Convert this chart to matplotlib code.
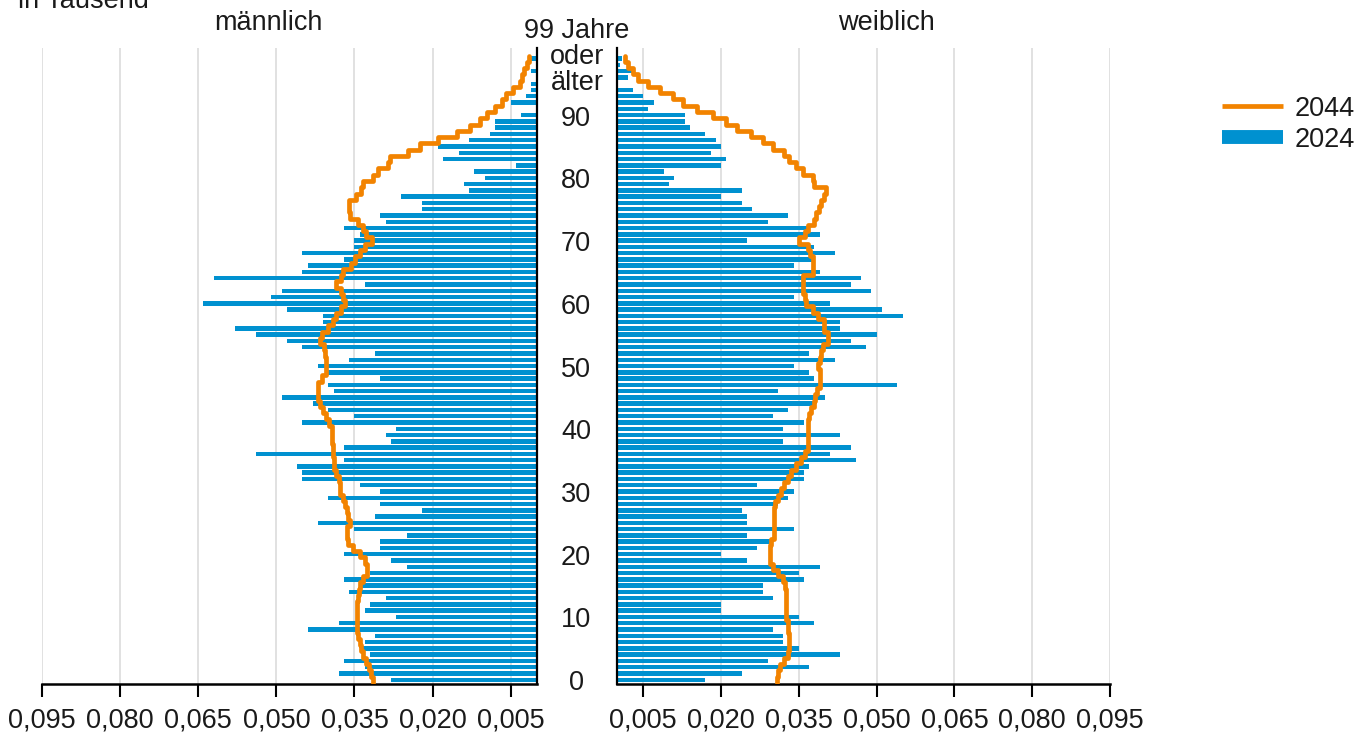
import numpy as np
import matplotlib
matplotlib.use("Agg")
import matplotlib.pyplot as plt
from matplotlib.lines import Line2D
from matplotlib.transforms import blended_transform_factory, ScaledTranslation

plt.rcParams['font.family'] = ['Liberation Sans', 'DejaVu Sans']

# ---------------- data (in Tausend) ----------------
ages = np.arange(0, 100)

male_2024 = [28, 38, 33, 37, 32, 34, 33, 31, 44, 38,
             27, 33, 32, 29, 36, 34, 37, 32, 25, 28,
             37, 30, 30, 25, 35, 42, 31, 22, 30, 40,
             30, 34, 45, 45, 46, 37, 54, 37, 28, 29,
             27, 45, 35, 40, 43, 49, 39, 40, 30, 40,
             42, 36, 31, 45, 48, 54, 58, 41, 41, 48,
             64, 51, 49, 33, 62, 45, 44, 37, 45, 35,
             35, 34, 37, 29, 30, 22, 22, 26, 13, 14,
             10, 12, 4, 18, 15, 19, 13, 9, 8, 8,
             3, 0, 5, 2, 1, 1, 0, 1, 0, 1]

female_2024 = [17, 24, 37, 29, 43, 35, 32, 32, 30, 38,
               35, 20, 20, 30, 28, 28, 36, 35, 39, 25,
               20, 27, 30, 25, 34, 25, 25, 24, 31, 33,
               34, 27, 36, 36, 37, 46, 41, 45, 32, 43,
               32, 36, 30, 33, 38, 40, 31, 54, 38, 37,
               34, 42, 37, 48, 45, 50, 43, 43, 55, 51,
               41, 34, 49, 45, 47, 39, 34, 38, 42, 38,
               25, 39, 37, 29, 33, 26, 24, 20, 24, 10,
               11, 9, 20, 21, 18, 20, 19, 17, 14, 13,
               13, 6, 7, 5, 3, 0, 2, 3, 0.5, 1]

male_2044 = [31.5, 31.8, 32.3, 32.8, 33.3, 33.7, 33.9, 34.3, 34.6, 34.6,
             34.6, 34.6, 34.6, 34.4, 34.1, 34.0, 33.3, 32.5, 32.5, 33.0,
             34.0, 35.3, 36.2, 36.5, 36.4, 35.9, 36.2, 36.5, 36.8, 37.2,
             37.8, 37.8, 37.9, 38.5, 39.0, 39.0, 39.2, 39.2, 39.4, 39.4,
             39.4, 39.8, 40.4, 41.0, 41.7, 42.0, 42.0, 42.0, 41.3, 40.4,
             40.4, 40.5, 40.7, 40.9, 41.7, 41.2, 40.1, 39.2, 38.5, 37.5,
             36.9, 37.2, 37.5, 38.5, 37.5, 37.2, 35.6, 34.9, 34.0, 33.0,
             31.7, 32.7, 33.3, 34.3, 35.9, 36.1, 36.0, 34.7, 33.8, 33.3,
             31.4, 30.5, 28.5, 28.2, 24.7, 22.4, 18.9, 15.4, 12.8, 10.9,
             9.6, 8.0, 6.7, 5.8, 4.5, 3.2, 2.8, 2.4, 1.9, 1.4]

female_2044 = [30.7, 31.0, 31.3, 32.2, 32.9, 33.2, 33.2, 33.2, 33.0, 32.9,
               32.6, 32.6, 32.6, 32.6, 32.6, 32.4, 32.0, 31.0, 30.0, 29.4,
               29.4, 29.4, 29.7, 30.3, 30.3, 30.3, 30.3, 30.3, 30.5, 31.0,
               31.6, 32.2, 32.9, 33.5, 34.5, 35.5, 36.1, 36.7, 36.7, 36.7,
               36.7, 36.7, 36.9, 37.4, 38.0, 38.2, 38.5, 39.0, 39.0, 39.0,
               38.7, 39.1, 39.2, 39.6, 40.6, 40.6, 39.9, 39.9, 38.7, 37.7,
               36.4, 36.1, 35.8, 35.9, 35.8, 37.7, 37.7, 37.7, 37.1, 36.7,
               35.1, 36.1, 36.7, 38.0, 38.3, 38.9, 39.3, 39.9, 40.3, 38.0,
               37.7, 35.8, 34.5, 33.2, 32.2, 30.0, 28.1, 25.8, 23.0, 21.0,
               18.5, 15.3, 12.7, 10.8, 8.2, 6.0, 4.0, 3.1, 2.1, 1.5]

tick_values = [0.095, 0.080, 0.065, 0.050, 0.035, 0.020, 0.005]
tick_labels = ["0,095", "0,080", "0,065", "0,050", "0,035", "0,020", "0,005"]
age_ticks = [0, 10, 20, 30, 40, 50, 60, 70, 80, 90]
age_tick_labels = ["0", "10", "20", "30", "40", "50", "60", "70", "80", "90"]
top_age_label = "99 Jahre\noder\nälter"
series_labels = ["2044", "2024"]

# ---------------- style ----------------
BLUE = "#0091d0"
ORANGE = "#f28300"
GRID = "#dedede"
TXT = "#1a1a1a"
FS = 19.5

W, H = 1371, 737
fig = plt.figure(figsize=(W / 100, H / 100), dpi=100)

bottom_px, top_px = 683.5, 48
axL = fig.add_axes([42 / W, 1 - bottom_px / H, (536.7 - 42) / W, (bottom_px - top_px) / H])
axR = fig.add_axes([617.3 / W, 1 - bottom_px / H, (1110 - 617.3) / W, (bottom_px - top_px) / H])

m24 = np.array(male_2024) / 1000.0
f24 = np.array(female_2024) / 1000.0
m44 = np.array(male_2044) / 1000.0
f44 = np.array(female_2044) / 1000.0


def step_path(vals):
    ys = np.column_stack([ages - 0.5, ages + 0.5]).ravel()
    xs = np.repeat(vals, 2)
    return xs, ys


for ax, bars, line in [(axL, m24, m44), (axR, f24, f44)]:
    ax.barh(ages, bars, height=0.7, color=BLUE, zorder=2, linewidth=0)
    xs, ys = step_path(line)
    ax.plot(xs, ys, color=ORANGE, lw=3.4, solid_joinstyle='round',
            solid_capstyle='round', zorder=3)
    ax.set_ylim(-0.606, 100.7)
    ax.set_yticks([])
    ax.set_xticks(tick_values)
    ax.set_xticklabels(tick_labels)
    ax.grid(axis='x', color=GRID, lw=1.3, zorder=0)
    ax.set_axisbelow(True)
    ax.tick_params(axis='x', direction='out', length=9.7, width=1.5,
                   color='black', labelsize=FS, labelcolor=TXT, pad=7.5)
    ax.spines['top'].set_visible(False)
    for s in ax.spines.values():
        s.set_color('black')
    ax.spines['bottom'].set_linewidth(1.8)

axL.set_xlim(0.095, 0)
axL.spines['left'].set_visible(False)
axL.spines['right'].set_linewidth(1.6)
axR.set_xlim(0, 0.095)
axR.spines['right'].set_visible(False)
axR.spines['left'].set_linewidth(1.6)

# age labels between panels
down = ScaledTranslation(0, -3.5 / 100, fig.dpi_scale_trans)
tr = blended_transform_factory(fig.transFigure, axR.transData) + down
for a, lab in zip(age_ticks, age_tick_labels):
    fig.text(576 / W, a, lab, transform=tr, ha='center', va='center',
             fontsize=FS, color=TXT)
fig.text(577 / W, 1 - 57 / H, top_age_label, ha='center', va='center',
         fontsize=FS, color=TXT, linespacing=0.99)

# titles
fig.text(268 / W, 1 - 22.5 / H, "männlich", ha='center', va='center', fontsize=FS, color=TXT)
fig.text(886 / W, 1 - 22.5 / H, "weiblich", ha='center', va='center', fontsize=FS, color=TXT)
fig.text(18 / W, 1 - 8 / H, "in Tausend", ha='left', va='baseline', fontsize=FS, color=TXT)

# legend
handles = [Line2D([0], [0], color=ORANGE, lw=3.4, solid_capstyle='butt'),
           Line2D([0], [0], color=BLUE, lw=10, solid_capstyle='butt')]
fig.legend(handles, series_labels, loc='upper left',
           bbox_to_anchor=(1222 / W, 1 - 95.5 / H), frameon=False,
           fontsize=FS, handlelength=2.25, handletextpad=0.45,
           labelspacing=0.2, borderpad=0, borderaxespad=0, labelcolor=TXT)

fig.savefig("out.png", dpi=100)
